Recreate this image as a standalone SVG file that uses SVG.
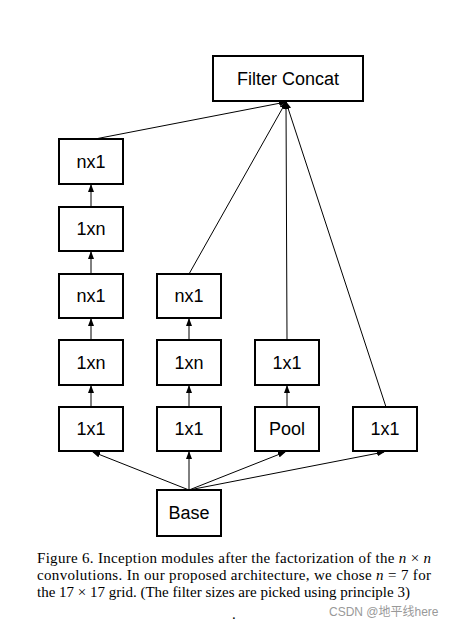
<svg xmlns="http://www.w3.org/2000/svg" width="456" height="628" viewBox="0 0 456 628">
<style>
.box{fill:#fff;stroke:#000;stroke-width:2}
.lbl{font-family:"Liberation Sans",Arial,sans-serif;font-size:18px;text-anchor:middle;fill:#000}
.cn{fill:none;stroke:#000;stroke-width:1}
.cap{font-family:"Liberation Serif","Times New Roman",serif;font-size:15px;fill:#000}
</style>
<defs>
<marker id="ah" markerWidth="8" markerHeight="6" refX="7" refY="3" orient="auto" markerUnits="userSpaceOnUse">
<path d="M0,0 L8,3 L0,6 Z" fill="#000"/>
</marker>
</defs>
<rect width="456" height="628" fill="#fff"/>
<g id="connectors">
<line class="cn" x1="91" y1="207" x2="91" y2="185" marker-end="url(#ah)"/>
<line class="cn" x1="91" y1="274" x2="91" y2="252" marker-end="url(#ah)"/>
<line class="cn" x1="91" y1="340" x2="91" y2="319" marker-end="url(#ah)"/>
<line class="cn" x1="91" y1="407" x2="91" y2="386" marker-end="url(#ah)"/>
<line class="cn" x1="189" y1="340" x2="189" y2="319" marker-end="url(#ah)"/>
<line class="cn" x1="189" y1="407" x2="189" y2="386" marker-end="url(#ah)"/>
<line class="cn" x1="287" y1="407" x2="287" y2="386" marker-end="url(#ah)"/>
<line class="cn" x1="95" y1="139" x2="286" y2="102" marker-end="url(#ah)"/>
<line class="cn" x1="189" y1="274" x2="286" y2="102" marker-end="url(#ah)"/>
<line class="cn" x1="287" y1="340" x2="286" y2="102" marker-end="url(#ah)"/>
<line class="cn" x1="386" y1="407" x2="286" y2="102" marker-end="url(#ah)"/>
<line class="cn" x1="189" y1="490" x2="93" y2="452" marker-end="url(#ah)"/>
<line class="cn" x1="189" y1="490" x2="189" y2="452" marker-end="url(#ah)"/>
<line class="cn" x1="189" y1="490" x2="285" y2="452" marker-end="url(#ah)"/>
<line class="cn" x1="189" y1="490" x2="384" y2="452" marker-end="url(#ah)"/>
</g>
<g id="concat"><rect class="box" x="213" y="56" width="150" height="45"/><text class="lbl" x="288" y="84.5">Filter Concat</text></g>
<g id="a1"><rect class="box" x="59" y="139" width="64" height="45"/><text class="lbl" x="91" y="167.5">nx1</text></g>
<g id="a2"><rect class="box" x="59" y="207" width="64" height="44"/><text class="lbl" x="91" y="235">1xn</text></g>
<g id="a3"><rect class="box" x="59" y="274" width="64" height="44"/><text class="lbl" x="91" y="302">nx1</text></g>
<g id="a4"><rect class="box" x="59" y="340" width="64" height="45"/><text class="lbl" x="91" y="368.5">1xn</text></g>
<g id="a5"><rect class="box" x="59" y="407" width="64" height="44"/><text class="lbl" x="91" y="435">1x1</text></g>
<g id="b1"><rect class="box" x="157" y="274" width="64" height="44"/><text class="lbl" x="189" y="302">nx1</text></g>
<g id="b2"><rect class="box" x="157" y="340" width="64" height="45"/><text class="lbl" x="189" y="368.5">1xn</text></g>
<g id="b3"><rect class="box" x="157" y="407" width="64" height="44"/><text class="lbl" x="189" y="435">1x1</text></g>
<g id="c1"><rect class="box" x="255" y="340" width="64" height="45"/><text class="lbl" x="287" y="368.5">1x1</text></g>
<g id="c2"><rect class="box" x="255" y="407" width="64" height="44"/><text class="lbl" x="287" y="435">Pool</text></g>
<g id="d1"><rect class="box" x="353" y="407" width="64" height="44"/><text class="lbl" x="385" y="435">1x1</text></g>
<g id="base"><rect class="box" x="157" y="490" width="64" height="46"/><text class="lbl" x="189" y="519">Base</text></g>
<g id="caption">
<text class="cap" x="37" y="562.5" textLength="394" lengthAdjust="spacing">Figure 6. Inception modules after the factorization of the <tspan font-style="italic">n</tspan> × <tspan font-style="italic">n</tspan></text>
<text class="cap" x="37" y="580" textLength="394" lengthAdjust="spacing">convolutions.  In our proposed architecture, we chose <tspan font-style="italic">n</tspan> = 7 for</text>
<text class="cap" x="37" y="597">the 17 × 17 grid. (The filter sizes are picked using principle 3)</text>
<text class="cap" x="232" y="619">.</text>
<text x="329" y="616" font-family="'Liberation Sans','Noto Sans CJK SC',sans-serif" font-size="12" fill="#999">CSDN @地平线here</text>
</g>
</svg>
